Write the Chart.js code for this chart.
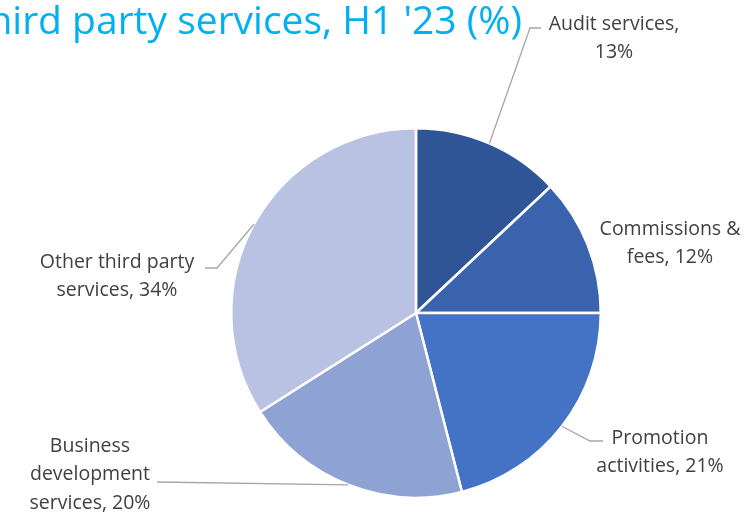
<!DOCTYPE html>
<html>
<head>
<meta charset="utf-8">
<script src="https://cdn.jsdelivr.net/npm/chart.js@4"></script>
<style>
  html, body { margin: 0; padding: 0; background: #fff; }
  #wrap { width: 749px; height: 514px; position: relative; }
</style>
</head>
<body>
<div id="wrap"><canvas id="pie"></canvas></div>
<script>
const categories = ["Audit services", "Commissions & fees", "Promotion activities", "Business development services", "Other third party services"]
const shares = [13, 12, 21, 20, 34]
const sliceColors = ["#2F5597", "#3A63AD", "#4472C4", "#8FA2D4", "#B9C2E2"]
const titleText = "third party services, H1 '23 (%)"

// label lines + where each label sits (layout only)
const labelLines = [
	["Audit services,", "13%"],
	["Commissions &", "fees, 12%"],
	["Promotion", "activities, 21%"],
	["Business", "development", "services, 20%"],
	["Other third party", "services, 34%"]
]
const labelPos = [
	{ x: 614, y: 24, leader: [[530, 28], [541, 28]] },
	{ x: 670, y: 229, leader: null },
	{ x: 660, y: 438, leader: [[590, 441], [603, 441]] },
	{ x: 90, y: 446, leader: [[157, 482]] },
	{ x: 117, y: 262, leader: [[217, 268], [205, 268]] }
]

const labelsPlugin = {
	id: "pieLabels",
	afterDraw(chart) {
		const ctx = chart.ctx
		const arcs = chart.getDatasetMeta(0).data
		ctx.save()
		// title, cut at left edge like the original
		ctx.font = "500 39px 'Open Sans'"
		ctx.fillStyle = "#00B0F0"
		ctx.textAlign = "right"
		ctx.textBaseline = "alphabetic"
		ctx.fillText(titleText, 522, 34)

		ctx.font = "19.5px 'Open Sans'"
		ctx.fillStyle = "#404040"
		ctx.textAlign = "center"
		ctx.textBaseline = "middle"
		arcs.forEach((arc, i) => {
			const p = labelPos[i]
			if (p.leader) {
				const { x, y, startAngle, endAngle, outerRadius } = arc.getProps(["x", "y", "startAngle", "endAngle", "outerRadius"], true)
				const mid = (startAngle + endAngle) / 2
				ctx.beginPath()
				ctx.strokeStyle = "#A6A6A6"
				ctx.lineWidth = 1.3
				ctx.moveTo(x + Math.cos(mid) * outerRadius, y + Math.sin(mid) * outerRadius)
				p.leader.forEach(pt => ctx.lineTo(pt[0], pt[1]))
				ctx.stroke()
			}
			labelLines[i].forEach((t, k) => ctx.fillText(t, p.x, p.y + k * 28.5))
		})
		ctx.restore()
	}
}

new Chart(document.getElementById("pie"), {
	type: "pie",
	data: {
		labels: categories,
		datasets: [{
			data: shares,
			backgroundColor: sliceColors,
			borderColor: "#fff",
			borderWidth: 2.5
		}]
	},
	options: {
		responsive: true,
		maintainAspectRatio: false,
		animation: false,
		layout: { padding: { top: 127, bottom: 15, left: 230, right: 147 } },
		plugins: {
			legend: { display: false },
			tooltip: { enabled: false }
		}
	},
	plugins: [labelsPlugin]
})
</script>
</body>
</html>
